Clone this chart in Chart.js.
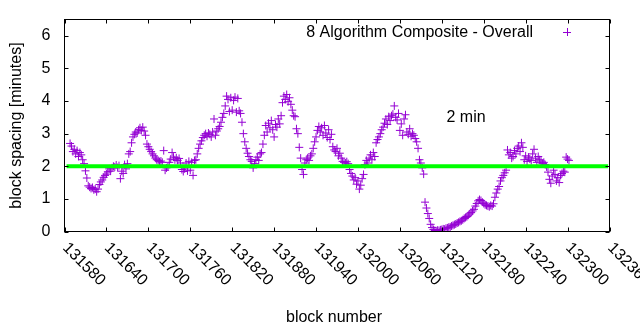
<!DOCTYPE html>
<html lang="en">
<head>
<meta charset="UTF-8">
<title>Block spacing</title>
<script src="https://cdn.jsdelivr.net/npm/chart.js@4"></script>
<style>
  html, body { margin: 0; padding: 0; background: #fff; }
  canvas { display: block; }
</style>
</head>
<body>
<canvas id="spacingChart" width="640" height="330"></canvas>
<script>
const seriesName = '8 Algorithm Composite - Overall';

// one sample every second block, starting at firstBlock
const firstBlock = 131588;
const blockStep = 2;
const spacing = [
  2.70, 2.62, 2.45, 2.52, 2.38, 2.48, 2.30, 2.42, 2.35, 2.20,
  2.08, 1.86, 1.64, 1.40, 1.36, 1.32, 1.35, 1.28, 1.30, 1.22,
  1.30, 1.44, 1.52, 1.58, 1.66, 1.72, 1.76, 1.83, 1.92, 1.85,
  1.95, 2.00, 1.98, 2.04, 1.96, 2.02, 1.62, 1.85, 1.78, 2.05,
  1.92, 2.08, 2.38, 2.45, 2.72, 2.90, 2.98, 3.05, 3.02, 3.12,
  3.18, 3.10, 3.20, 3.08, 2.95, 2.68, 2.60, 2.52, 2.45, 2.38,
  2.32, 2.25, 2.20, 2.18, 2.14, 2.16, 2.12, 2.48, 1.88, 1.95,
  1.98, 2.12, 2.22, 2.42, 2.28, 2.20, 2.26, 2.18, 2.24, 2.10,
  1.90, 1.84, 1.92, 2.10, 1.86, 2.15, 1.88, 2.12, 1.72, 2.18,
  2.20, 2.38, 2.55, 2.68, 2.78, 2.88, 2.95, 3.00, 2.92, 3.02,
  2.98, 2.90, 3.05, 3.45, 2.95, 3.08, 3.15, 3.22, 3.35, 3.50,
  3.62, 3.85, 4.15, 4.05, 3.68, 4.10, 3.72, 4.02, 4.12, 3.66,
  4.08, 3.70, 3.62, 3.35, 3.00, 2.75, 2.55, 2.40, 2.30, 2.20,
  2.15, 1.95, 2.08, 2.20, 2.28, 2.18, 2.38, 2.42, 2.68, 2.95,
  3.25, 3.05, 3.32, 3.18, 3.40, 3.12, 2.90, 3.28, 3.20, 3.45,
  3.30, 3.55, 3.95, 4.15, 4.05, 4.20, 3.98, 4.10, 3.90, 3.72,
  3.55, 3.52, 3.15, 3.00, 2.58, 2.25, 1.90, 1.75, 2.10, 2.20,
  2.25, 2.18, 2.32, 2.38, 2.55, 2.75, 2.90, 3.10, 3.22, 3.05,
  3.18, 2.95, 3.25, 3.02, 2.88, 3.12, 2.82, 2.98, 2.60, 2.50,
  2.45, 2.55, 2.32, 2.40, 2.25, 2.15, 2.12, 2.10, 2.14, 2.08,
  1.90, 1.78, 1.70, 1.58, 1.65, 1.45, 1.55, 1.30, 1.42, 1.62,
  1.75, 2.05, 2.18, 2.10, 2.25, 2.35, 2.20, 2.42, 2.30, 2.72,
  2.82, 2.90, 3.00, 3.12, 3.20, 3.32, 3.45, 3.28, 3.52, 3.40,
  3.55, 3.60, 3.85, 3.50, 3.42, 3.62, 3.10, 3.30, 2.95, 3.45,
  3.58, 3.05, 2.98, 3.15, 2.92, 3.00, 2.95, 2.85, 2.75, 2.55,
  2.20, 2.10, 1.95, 1.76, 0.90, 0.72, 0.55, 0.40, 0.22, 0.12,
  0.06, 0.03, 0.02, 0.04, 0.03, 0.05, 0.06, 0.08, 0.07, 0.10,
  0.11, 0.13, 0.14, 0.17, 0.19, 0.21, 0.23, 0.26, 0.28, 0.31,
  0.33, 0.36, 0.40, 0.43, 0.46, 0.50, 0.54, 0.58, 0.63, 0.68,
  0.78, 0.86, 0.94, 0.98, 0.95, 0.90, 0.86, 0.82, 0.80, 0.78,
  0.76, 0.80, 0.78, 0.85, 1.05, 1.18, 1.30, 1.38, 1.55, 1.65,
  1.72, 1.80, 1.88, 2.50, 2.35, 2.42, 2.25, 2.30, 2.48, 2.38,
  2.55, 2.62, 2.45, 2.72, 2.58, 2.20, 2.32, 2.15, 2.28, 2.22,
  2.18, 2.38, 2.52, 2.25, 2.12, 2.30, 2.20, 2.16, 2.08, 2.12,
  2.05, 1.98, 1.82, 1.60, 1.48, 1.70, 1.88, 1.75, 1.55, 1.65,
  1.50, 1.72, 1.78, 1.85, 1.82, 2.28, 2.22, 2.18
];

// 2 minute target line
const targetMinutes = 2;
const targetBlocks = [131583, 132358];

const xTicks = [131580, 131640, 131700, 131760, 131820, 131880, 131940,
                132000, 132060, 132120, 132180, 132240, 132300, 132360];
const yTicks = [0, 1, 2, 3, 4, 5, 6];

const purple = '#9400d3';
const fontFamily = '"Liberation Sans", Arial, sans-serif';

Chart.defaults.font.family = fontFamily;
Chart.defaults.font.size = 16;
Chart.defaults.color = '#000';

const points = spacing.map((v, i) => ({ x: firstBlock + i * blockStep, y: v }));
const target = targetBlocks.map(b => ({ x: b, y: targetMinutes }));

// gnuplot style frame: box, inward mirrored tics, rotated x labels, titles, key
const frame = {
  id: 'frame',
  afterDraw(chart) {
    const { ctx, chartArea: a, scales: { x, y } } = chart;
    ctx.save();
    ctx.strokeStyle = '#000';
    ctx.lineWidth = 1;
    ctx.strokeRect(a.left, a.top, a.right - a.left, a.bottom - a.top);

    ctx.beginPath();
    xTicks.forEach(v => {
      const px = Math.round(x.getPixelForValue(v)) + 0.5;
      ctx.moveTo(px, a.bottom); ctx.lineTo(px, a.bottom - 4);
      ctx.moveTo(px, a.top); ctx.lineTo(px, a.top + 4);
    });
    yTicks.forEach(v => {
      const py = Math.round(y.getPixelForValue(v)) + 0.5;
      ctx.moveTo(a.left, py); ctx.lineTo(a.left + 4, py);
      ctx.moveTo(a.right, py); ctx.lineTo(a.right - 4, py);
    });
    ctx.stroke();

    ctx.fillStyle = '#000';
    ctx.font = '16px ' + fontFamily;

    // x tick labels, turned 45 degrees clockwise
    ctx.textAlign = 'left';
    ctx.textBaseline = 'middle';
    xTicks.forEach(v => {
      const px = x.getPixelForValue(v);
      ctx.save();
      ctx.translate(px + 0.5, a.bottom + 14);
      ctx.rotate(Math.PI / 4);
      ctx.fillText(String(v), 0, 0);
      ctx.restore();
    });

    ctx.textBaseline = 'alphabetic';
    ctx.textAlign = 'center';
    ctx.fillText('block number', 334, 321.5);

    ctx.save();
    ctx.translate(21, (a.top + a.bottom) / 2);
    ctx.rotate(-Math.PI / 2);
    ctx.fillText('block spacing [minutes]', 0, 0);
    ctx.restore();

    ctx.textAlign = 'left';
    ctx.fillText(targetMinutes + ' min', 446.5, 122);

    // key
    ctx.textAlign = 'right';
    ctx.fillText(seriesName, 533, 37);
    ctx.strokeStyle = purple;
    ctx.beginPath();
    ctx.moveTo(563, 32.5); ctx.lineTo(571, 32.5);
    ctx.moveTo(567.5, 28); ctx.lineTo(567.5, 36);
    ctx.stroke();
    ctx.restore();
  }
};

new Chart(document.getElementById('spacingChart'), {
  type: 'scatter',
  data: {
    datasets: [
      {
        label: targetMinutes + ' min',
        data: target,
        showLine: true,
        borderColor: '#00ff00',
        borderWidth: 4,
        pointRadius: 0,
        borderCapStyle: 'butt'
      },
      {
        label: seriesName,
        data: points,
        pointStyle: 'cross',
        pointRadius: 4,
        pointBorderWidth: 1,
        borderColor: purple,
        backgroundColor: purple,
        showLine: false
      }
    ]
  },
  options: {
    responsive: false,
    animation: false,
    devicePixelRatio: 1,
    layout: { padding: { left: 0, top: 19.5, right: 30.5, bottom: 98.5 } },
    plugins: { legend: { display: false }, tooltip: { enabled: false } },
    scales: {
      x: {
        type: 'linear',
        display: false,
        min: 131580,
        max: 132360
      },
      y: {
        min: 0,
        max: 6.5,
        afterFit(scale) {
          // fixed axis width; the plot box is set by the layout padding alone
          scale.width = 64.5;
          scale.paddingTop = 0;
          scale.paddingBottom = 0;
        },
        afterBuildTicks(scale) { scale.ticks = yTicks.map(v => ({ value: v })); },
        grid: { display: false, drawTicks: false },
        border: { display: false },
        ticks: { padding: 14, color: '#000', font: { size: 16 } }
      }
    }
  },
  plugins: [frame]
});
</script>
</body>
</html>
